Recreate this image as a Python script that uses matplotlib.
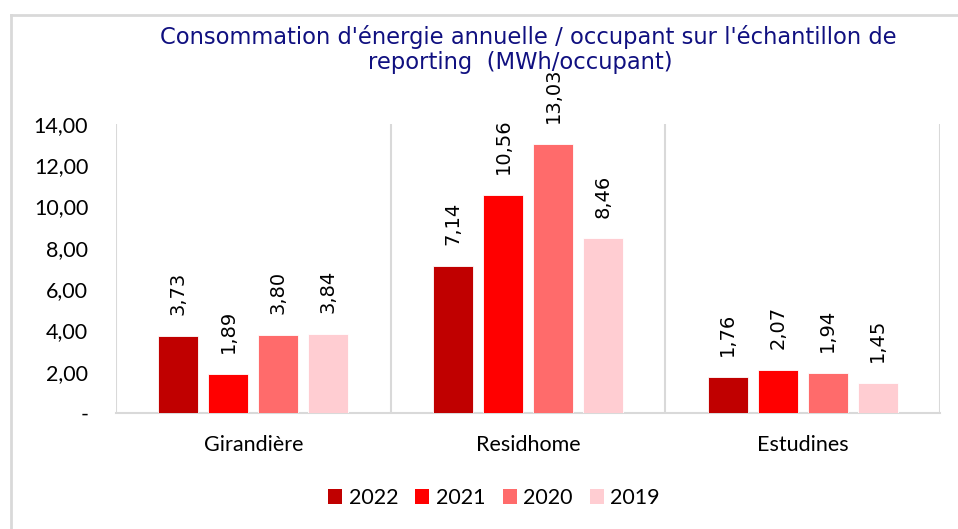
import matplotlib
matplotlib.use("Agg")
import matplotlib.pyplot as plt
from matplotlib.lines import Line2D
from matplotlib.patches import Patch
import numpy as np

categories = ["Girandière", "Residhome", "Estudines"]
years = ["2022", "2021", "2020", "2019"]
values = {
    "2022": [3.73, 7.14, 1.76],
    "2021": [1.89, 10.56, 2.07],
    "2020": [3.80, 13.03, 1.94],
    "2019": [3.84, 8.46, 1.45],
}
colors = ["#C00000", "#FF0000", "#FF6B6B", "#FFCDD2"]
yticks = [0, 2, 4, 6, 8, 10, 12, 14]
title_line1 = "Consommation d'énergie annuelle / occupant sur l'échantillon de"
title_line2 = "reporting  (MWh/occupant)"

W, H = 958, 529
fig = plt.figure(figsize=(W / 100, H / 100), dpi=100)
ax = fig.add_axes([116 / W, 1 - 413 / H, (940 - 116) / W, (413 - 124) / H])

x = np.arange(len(categories))
width = 0.145
step = 0.182
offsets = (np.arange(len(years)) - 1.5) * step

for i, (yr, c) in enumerate(zip(years, colors)):
    bars = ax.bar(x + offsets[i], values[yr], width=width, color=c,
                  edgecolor="white", linewidth=0.6, zorder=3)
    for b, v in zip(bars, values[yr]):
        ax.annotate(f"{v:.2f}".replace(".", ","),
                    (b.get_x() + b.get_width() / 2, b.get_height()),
                    xytext=(0, 15), textcoords="offset points",
                    rotation=90, ha="center", va="bottom",
                    fontsize=14, family="DejaVu Sans", color="black",
                    annotation_clip=False)

ax.set_xlim(-0.5, 2.5)
ax.set_ylim(0, 14)
ax.set_yticks(yticks)
ax.set_yticklabels(["-" if t == 0 else f"{t:.2f}".replace(".", ",") for t in yticks],
                   family="Lato", fontsize=15.5)
ax.set_xticks(x)
ax.set_xticklabels(categories, family="Lato", fontsize=15.5)
ax.tick_params(axis="both", length=0)
ax.tick_params(axis="y", pad=20)
ax.tick_params(axis="x", pad=16)

for s in ["top", "right", "left"]:
    ax.spines[s].set_visible(False)
ax.spines["bottom"].set_color("#D9D9D9")
ax.spines["bottom"].set_linewidth(1.5)
for gx in [-0.5, 0.5, 1.5, 2.5]:
    ax.axvline(gx, color="#D9D9D9", linewidth=1.5, zorder=1)

fig.text(528 / W, 1 - 37 / H, title_line1, ha="center", va="center",
         family="DejaVu Sans", fontsize=16.3, color="#101080")
fig.text(520 / W, 1 - 63 / H, title_line2, ha="center", va="center",
         family="DejaVu Sans", fontsize=16.3, color="#101080")

handles = [Patch(facecolor=c, edgecolor="none") for c in colors]
fig.legend(handles, years, loc="center", bbox_to_anchor=(494 / W, 1 - 498 / H),
           ncol=4, frameon=False, prop={"family": "Lato", "size": 15.5},
           handlelength=0.65, handleheight=0.65, handletextpad=0.3, columnspacing=0.8)

# outer frame
fig.add_artist(Line2D([11 / W, 11 / W], [0, 1 - 15 / H], color="#D9D9D9", linewidth=2,
                      transform=fig.transFigure))
fig.add_artist(Line2D([11 / W, 1], [1 - 15 / H, 1 - 15 / H], color="#D9D9D9", linewidth=2,
                      transform=fig.transFigure))

fig.savefig("out.png", dpi=100)
